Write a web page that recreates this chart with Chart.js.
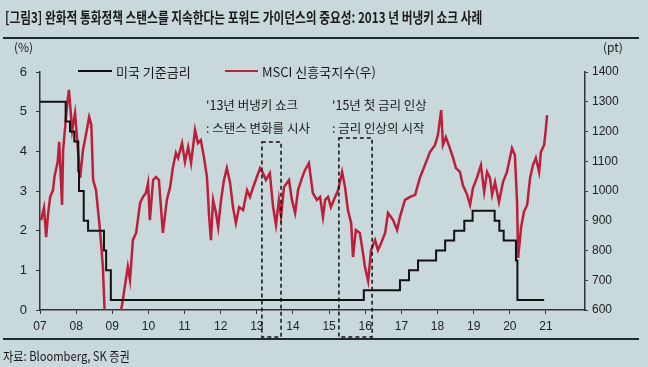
<!DOCTYPE html>
<html>
<head>
<meta charset="utf-8">
<script src="https://cdn.jsdelivr.net/npm/chart.js@4.4.1/dist/chart.umd.min.js"></script>
<style>
  html, body { margin: 0; padding: 0; }
  body { width: 648px; height: 367px; background: #c8d8db; position: relative; overflow: hidden;
         font-family: "Noto Sans CJK KR", "Noto Sans", sans-serif; color: #1a1a1a; }
  #chart { position: absolute; left: 0; top: 0; }
  .txt { position: absolute; white-space: nowrap; }
  .sq { display: inline-block; transform-origin: left center; }
  .rule { position: absolute; left: 3px; width: 636px; background: #1e2a2c; }
  .leg { position: absolute; height: 0; border-top: 2px solid; }
</style>
</head>
<body>
<canvas id="chart" width="648" height="367"></canvas>

<div class="txt" style="left:5px; top:6px; font-size:15px; font-weight:bold;">
  <span class="sq" style="transform:scaleX(0.78);">[그림3] 완화적 통화정책 스탠스를 지속한다는 포워드 가이던스의 중요성: 2013 년 버냉키 쇼크 사례</span>
</div>
<div class="rule" style="top:37px; height:2px;"></div>

<div class="txt" style="left:14px; top:38px; font-size:12px;">(%)</div>
<div class="txt" style="left:603px; top:38px; font-size:12px;">(pt)</div>

<div class="leg" style="left:78px; top:70px; width:34px; border-color:#111;"></div>
<div class="txt" style="left:116px; top:62px; font-size:13px;">미국 기준금리</div>
<div class="leg" style="left:225px; top:70px; width:33px; border-color:#b8283e;"></div>
<div class="txt" style="left:262px; top:62px; font-size:13px;">MSCI 신흥국지수(우)</div>

<div class="txt" style="left:206px; top:95px; font-size:12.5px;">'13년 버냉키 쇼크</div>
<div class="txt" style="left:206px; top:118px; font-size:12.5px;">: 스탠스 변화를 시사</div>
<div class="txt" style="left:332px; top:95px; font-size:12.5px;">'15년 첫 금리 인상</div>
<div class="txt" style="left:332px; top:118px; font-size:12.5px;">: 금리 인상의 시작</div>

<div class="rule" style="top:338px; height:2px;"></div>
<div class="txt" style="left:3px; top:346px; font-size:13px;">
  <span class="sq" style="transform:scaleX(0.86);">자료: Bloomberg, SK 증권</span>
</div>

<script>
// 미국 기준금리 (%), 변경 시점 (연도 소수)
const rateX = [2007.00, 2007.71, 2007.83, 2007.95, 2008.06, 2008.08, 2008.21, 2008.33, 2008.77, 2008.83,
               2008.96, 2015.96, 2016.96, 2017.21, 2017.46, 2017.96, 2018.21, 2018.46, 2018.74, 2018.97,
               2019.58, 2019.71, 2019.83, 2020.17, 2020.21, 2020.95];
const rateY = [5.25, 4.75, 4.50, 4.25, 3.50, 3.00, 2.25, 2.00, 1.50, 1.00,
               0.25, 0.50, 0.75, 1.00, 1.25, 1.50, 1.75, 2.00, 2.25, 2.50,
               2.25, 2.00, 1.75, 1.25, 0.25, 0.25];

// MSCI 신흥국지수 (pt)
const msciX = [2007.03, 2007.11, 2007.17, 2007.22, 2007.28, 2007.36, 2007.40, 2007.49, 2007.53, 2007.61,
               2007.64, 2007.75, 2007.80, 2007.89, 2007.97, 2008.05, 2008.11, 2008.19, 2008.27, 2008.36,
               2008.42, 2008.47, 2008.55, 2008.66, 2008.74, 2008.80, 2008.88, 2008.99, 2009.10, 2009.21,
               2009.27, 2009.32, 2009.43, 2009.49, 2009.57, 2009.66, 2009.77, 2009.85, 2009.93, 2009.99,
               2010.04, 2010.13, 2010.21, 2010.29, 2010.40, 2010.51, 2010.60, 2010.68, 2010.76, 2010.82,
               2010.93, 2011.01, 2011.10, 2011.18, 2011.29, 2011.37, 2011.45, 2011.54, 2011.62, 2011.68,
               2011.73, 2011.79, 2011.87, 2011.93, 2012.01, 2012.09, 2012.17, 2012.26, 2012.34, 2012.42,
               2012.51, 2012.62, 2012.73, 2012.81, 2012.89, 2013.00, 2013.09, 2013.17, 2013.25, 2013.36,
               2013.45, 2013.53, 2013.61, 2013.67, 2013.75, 2013.83, 2013.89, 2013.97, 2014.06, 2014.14,
               2014.25, 2014.33, 2014.44, 2014.55, 2014.66, 2014.75, 2014.83, 2014.89, 2014.97, 2015.05,
               2015.13, 2015.25, 2015.36, 2015.44, 2015.52, 2015.61, 2015.66, 2015.74, 2015.85, 2015.94,
               2015.99, 2016.08, 2016.16, 2016.27, 2016.35, 2016.44, 2016.55, 2016.63, 2016.71, 2016.77,
               2016.88, 2016.96, 2017.10, 2017.24, 2017.38, 2017.51, 2017.65, 2017.79, 2017.93, 2018.01,
               2018.10, 2018.15, 2018.23, 2018.34, 2018.43, 2018.51, 2018.62, 2018.70, 2018.82, 2018.90,
               2018.98, 2019.09, 2019.20, 2019.29, 2019.37, 2019.45, 2019.51, 2019.59, 2019.70, 2019.81,
               2019.92, 2020.06, 2020.14, 2020.20, 2020.23, 2020.31, 2020.39, 2020.48, 2020.56, 2020.64,
               2020.72, 2020.81, 2020.86, 2020.95, 2021.00, 2021.03];
const msciY = [902, 943, 845, 919, 980, 1003, 1048, 1098, 1165, 953,
               1138, 1289, 1340, 1205, 1262, 1138, 1044, 1138, 1188, 1249,
               1222, 1037, 1003, 869, 745, 560, 520, 560, 530, 580,
               617, 657, 745, 700, 835, 859, 960, 980, 993, 1027,
               902, 1037, 1047, 1037, 859, 970, 1013, 1081, 1128, 1111,
               1161, 1098, 1148, 1094, 1205, 1161, 1171, 1111, 1047, 913,
               835, 970, 926, 879, 970, 1037, 1077, 1027, 946, 892,
               946, 936, 1003, 980, 1010, 1047, 1077, 1060, 1037, 1060,
               946, 886, 970, 913, 1013, 1027, 1037, 970, 926, 1003,
               1044, 1070, 1094, 993, 970, 980, 913, 970, 980, 946,
               970, 1003, 1064, 1013, 936, 892, 778, 869, 859, 789,
               745, 697, 801, 835, 801, 825, 859, 926, 913, 902,
               869, 913, 970, 980, 987, 1044, 1087, 1131, 1155, 1188,
               1272, 1155, 1181, 1144, 1111, 1077, 1064, 1020, 987, 953,
               1010, 1044, 1087, 997, 1064, 1044, 987, 1030, 963, 1030,
               1064, 1144, 1121, 963, 775, 876, 930, 953, 1044, 1087,
               1111, 1064, 1131, 1155, 1212, 1255];

const yearTicks = [2007, 2008, 2009, 2010, 2011, 2012, 2013, 2014, 2015, 2016, 2017, 2018, 2019, 2020, 2021];

// 점선 박스 (버냉키 쇼크, 첫 금리 인상)
const boxX0 = [2013.14, 2015.27];
const boxX1 = [2013.67, 2016.19];
const boxTop = [1165, 1178];

const dashedBoxes = {
  id: 'dashedBoxes',
  afterDatasetsDraw(chart) {
    const { ctx, scales, chartArea } = chart;
    ctx.save();
    ctx.strokeStyle = '#111';
    ctx.lineWidth = 1.5;
    ctx.setLineDash([4, 3]);
    for (let i = 0; i < boxX0.length; i++) {
      const l = scales.x.getPixelForValue(boxX0[i]);
      const r = scales.x.getPixelForValue(boxX1[i]);
      const t = scales.y1.getPixelForValue(boxTop[i]);
      const b = chartArea.bottom + 27;
      ctx.strokeRect(l, t, r - l, b - t);
    }
    ctx.restore();
  }
};

const ctx = document.getElementById('chart').getContext('2d');

new Chart(ctx, {
  type: 'line',
  data: {
    datasets: [
      {
        label: '미국 기준금리',
        data: rateX.map((x, i) => ({ x: x, y: rateY[i] })),
        yAxisID: 'y',
        stepped: true,
        borderColor: '#111',
        borderWidth: 2,
        pointRadius: 0
      },
      {
        label: 'MSCI 신흥국지수(우)',
        data: msciX.map((x, i) => ({ x: x, y: msciY[i] })),
        yAxisID: 'y1',
        borderColor: '#bd1f3a',
        borderWidth: 2.5,
        pointRadius: 0
      }
    ]
  },
  options: {
    responsive: false,
    animation: false,
    devicePixelRatio: 1,
    layout: { padding: { top: 72, bottom: 32, left: 0, right: 0 } },
    plugins: { legend: { display: false }, tooltip: { enabled: false } },
    scales: {
      x: {
        type: 'linear',
        min: 2007,
        max: 2022.08,
        afterFit: s => { s.height = 25; },
        afterBuildTicks: s => { s.ticks = yearTicks.map(v => ({ value: v })); },
        ticks: {
          autoSkip: false,
          maxRotation: 0,
          padding: 5,
          color: '#222',
          font: { family: 'Liberation Sans Narrow, Liberation Sans, sans-serif', size: 12 },
          callback: v => String(v % 100).padStart(2, '0')
        },
        grid: { drawOnChartArea: false, drawTicks: true, tickLength: 4, color: '#333' },
        border: { display: true, color: '#333', width: 1.5 }
      },
      y: {
        position: 'left',
        min: 0,
        max: 6,
        afterFit: s => { s.width = 40; },
        ticks: {
          stepSize: 1, padding: 9, color: '#222',
          font: { family: 'Liberation Sans, sans-serif', size: 13 },
          callback: v => String(v)
        },
        grid: { drawOnChartArea: false, tickLength: 4, color: '#333' },
        border: { display: true, color: '#333', width: 1.5 }
      },
      y1: {
        position: 'right',
        min: 600,
        max: 1400,
        afterFit: s => { s.width = 63; },
        ticks: {
          stepSize: 100, padding: 4, color: '#222',
          font: { family: 'Liberation Sans, sans-serif', size: 12 },
          callback: v => String(v)
        },
        grid: { drawOnChartArea: false, tickLength: 3, color: '#333' },
        border: { display: true, color: '#333', width: 1.5 }
      }
    }
  },
  plugins: [dashedBoxes]
});
</script>
</body>
</html>
